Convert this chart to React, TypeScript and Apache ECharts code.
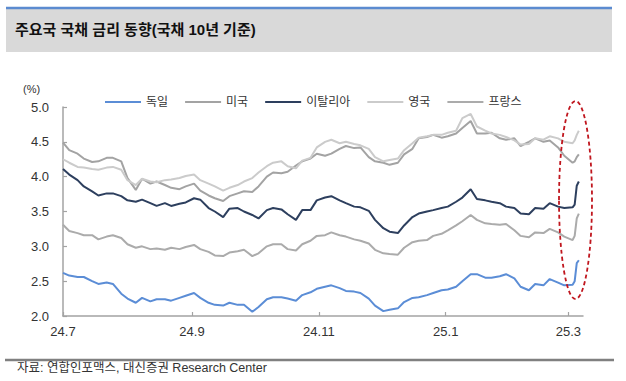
import React, { useEffect, useRef } from "react";
import * as echarts from "echarts";

const FONT = '"Liberation Sans", "Noto Sans CJK KR", sans-serif';

const seriesNames = ["독일", "미국", "이탈리아", "영국", "프랑스"];
const seriesColors = ["#5b8dd6", "#a3a3a3", "#2d3f5e", "#cbcbcb", "#ababab"];

const axisStart = "2024-07-01";
const axisEnd = "2025-03-08";

const dates = [
  "2024-07-01", "2024-07-04", "2024-07-08", "2024-07-11", "2024-07-15", "2024-07-18", "2024-07-22", "2024-07-25", "2024-07-29",
  "2024-08-01", "2024-08-05", "2024-08-08", "2024-08-12", "2024-08-15", "2024-08-19", "2024-08-22", "2024-08-26", "2024-08-29",
  "2024-09-02", "2024-09-05", "2024-09-09", "2024-09-12", "2024-09-16", "2024-09-19", "2024-09-23", "2024-09-26", "2024-09-30",
  "2024-10-03", "2024-10-07", "2024-10-10", "2024-10-14", "2024-10-17", "2024-10-21", "2024-10-24", "2024-10-28", "2024-10-31",
  "2024-11-04", "2024-11-07", "2024-11-11", "2024-11-14", "2024-11-18", "2024-11-21", "2024-11-25", "2024-11-28",
  "2024-12-02", "2024-12-05", "2024-12-09", "2024-12-12", "2024-12-16", "2024-12-19", "2024-12-23", "2024-12-26", "2024-12-30",
  "2025-01-02", "2025-01-06", "2025-01-09", "2025-01-13", "2025-01-16", "2025-01-20", "2025-01-23", "2025-01-27", "2025-01-30",
  "2025-02-03", "2025-02-06", "2025-02-10", "2025-02-13", "2025-02-17", "2025-02-20", "2025-02-24", "2025-02-27",
  "2025-03-03", "2025-03-04", "2025-03-05", "2025-03-06",
];

const germany = [
  2.62, 2.58, 2.56, 2.56, 2.50, 2.46, 2.48, 2.46, 2.32,
  2.25, 2.19, 2.26, 2.21, 2.24, 2.24, 2.22, 2.26, 2.29,
  2.33, 2.26, 2.19, 2.16, 2.15, 2.19, 2.16, 2.16, 2.06,
  2.13, 2.24, 2.27, 2.27, 2.25, 2.22, 2.30, 2.34, 2.39,
  2.42, 2.44, 2.40, 2.36, 2.35, 2.33, 2.25, 2.15,
  2.07, 2.09, 2.11, 2.20, 2.26, 2.27, 2.30, 2.33, 2.37,
  2.38, 2.42, 2.50, 2.60, 2.60, 2.55, 2.55, 2.57, 2.60,
  2.54, 2.42, 2.37, 2.46, 2.44, 2.53, 2.48, 2.44,
  2.45, 2.50, 2.76, 2.80,
];

const usa = [
  4.49, 4.38, 4.33, 4.26, 4.21, 4.22, 4.27, 4.27, 4.22,
  3.98, 3.81, 3.97, 3.90, 3.93, 3.88, 3.84, 3.82, 3.86,
  3.90, 3.80, 3.73, 3.69, 3.65, 3.72, 3.76, 3.79, 3.78,
  3.86, 4.00, 4.06, 4.05, 4.07, 4.16, 4.22, 4.26, 4.33,
  4.30, 4.33, 4.40, 4.44, 4.41, 4.42, 4.28, 4.22,
  4.20, 4.17, 4.20, 4.32, 4.40, 4.55, 4.57, 4.60, 4.56,
  4.58, 4.62, 4.70, 4.80, 4.62, 4.62, 4.63, 4.55, 4.53,
  4.55, 4.44, 4.50, 4.55, 4.50, 4.52, 4.42, 4.30,
  4.20, 4.22, 4.28, 4.32,
];

const italy = [
  4.11, 4.03, 3.95, 3.86, 3.79, 3.73, 3.76, 3.76, 3.72,
  3.66, 3.64, 3.67, 3.62, 3.58, 3.62, 3.58, 3.61, 3.63,
  3.69, 3.67, 3.55, 3.50, 3.42, 3.54, 3.55, 3.50, 3.45,
  3.40, 3.52, 3.55, 3.53, 3.46, 3.38, 3.52, 3.52, 3.66,
  3.70, 3.72, 3.66, 3.62, 3.57, 3.56, 3.51, 3.38,
  3.26, 3.21, 3.19, 3.30, 3.42, 3.47, 3.50, 3.52, 3.55,
  3.57, 3.64, 3.70, 3.82, 3.68, 3.66, 3.64, 3.62, 3.57,
  3.55, 3.47, 3.46, 3.55, 3.54, 3.62, 3.57, 3.55,
  3.56, 3.60, 3.87, 3.93,
];

const uk = [
  4.25, 4.20, 4.14, 4.13, 4.11, 4.10, 4.13, 4.14, 4.10,
  3.95, 3.88, 3.97, 3.93, 3.92, 3.95, 3.96, 3.98, 4.01,
  4.03, 3.95, 3.90, 3.86, 3.80, 3.84, 3.88, 3.93, 3.98,
  4.06, 4.15, 4.20, 4.22, 4.15, 4.12, 4.23, 4.27, 4.42,
  4.50, 4.53, 4.48, 4.50, 4.47, 4.45, 4.40, 4.28,
  4.22, 4.24, 4.26, 4.38, 4.48, 4.56, 4.58, 4.60, 4.60,
  4.63, 4.66, 4.84, 4.90, 4.72, 4.66, 4.62, 4.60, 4.57,
  4.52, 4.46, 4.47, 4.55, 4.53, 4.58, 4.55, 4.50,
  4.48, 4.52, 4.60, 4.66,
];

const france = [
  3.31, 3.22, 3.19, 3.16, 3.16, 3.10, 3.14, 3.16, 3.12,
  3.03, 2.98, 3.00, 2.96, 2.97, 2.95, 2.98, 2.96, 2.99,
  3.02, 2.96, 2.92, 2.87, 2.86, 2.91, 2.93, 2.95, 2.86,
  2.90, 3.00, 3.03, 3.03, 2.96, 2.94, 3.03, 3.08, 3.15,
  3.16, 3.20, 3.16, 3.14, 3.10, 3.08, 3.04, 2.95,
  2.90, 2.89, 2.88, 2.98, 3.06, 3.08, 3.09, 3.15, 3.18,
  3.23, 3.30, 3.36, 3.45, 3.38, 3.33, 3.32, 3.31, 3.32,
  3.23, 3.15, 3.13, 3.20, 3.19, 3.25, 3.20, 3.14,
  3.09, 3.15, 3.40, 3.47,
];

const seriesValues = [germany, usa, italy, uk, france];

const yTicks = { min: 2.0, max: 5.0, step: 0.5 };
const labelMonths = [1, 3, 5, 7, 9, 11];

function buildCategories(): string[] {
  const out: string[] = [];
  const s = Date.UTC(+axisStart.slice(0, 4), +axisStart.slice(5, 7) - 1, +axisStart.slice(8, 10));
  const e = Date.UTC(+axisEnd.slice(0, 4), +axisEnd.slice(5, 7) - 1, +axisEnd.slice(8, 10));
  for (let t = s; t <= e; t += 86400000) {
    const d = new Date(t);
    const y = d.getUTCFullYear();
    const m = String(d.getUTCMonth() + 1).padStart(2, "0");
    const dd = String(d.getUTCDate()).padStart(2, "0");
    out.push(`${y}-${m}-${dd}`);
  }
  return out;
}

export default function App() {
  const ref = useRef<HTMLDivElement>(null);

  useEffect(() => {
    if (!ref.current) return;
    const chart = echarts.init(ref.current, undefined, { renderer: "svg" });
    const categories = buildCategories();
    const indexOf: Record<string, number> = {};
    categories.forEach((c, i) => (indexOf[c] = i));

    const isLabelDay = (_i: number, v: string) =>
      v.slice(8, 10) === "01" && labelMonths.includes(+v.slice(5, 7));

    const axisColor = "#a3a3a3";

    chart.setOption({
      animation: false,
      backgroundColor: "#ffffff",
      textStyle: { fontFamily: FONT },
      grid: { left: 63, right: 43, top: 107, bottom: 65, containLabel: false },
      legend: {
        data: seriesNames,
        left: 100,
        top: 91,
        icon: "rect",
        itemWidth: 36,
        itemHeight: 2,
        itemGap: 17,
        textStyle: { fontSize: 12, color: "#333333", fontFamily: FONT },
      },
      xAxis: {
        type: "category",
        data: categories,
        boundaryGap: false,
        axisLine: { lineStyle: { color: axisColor, width: 1.5 } },
        axisTick: { show: true, inside: true, length: 4, interval: isLabelDay, lineStyle: { color: axisColor, width: 1.2 } },
        axisLabel: {
          interval: isLabelDay,
          formatter: (v: string) => `${v.slice(2, 4)}.${+v.slice(5, 7)}`,
          color: "#333333",
          fontSize: 13,
          margin: 9,
          fontFamily: FONT,
        },
        splitLine: { show: false },
      },
      yAxis: {
        type: "value",
        min: yTicks.min,
        max: yTicks.max,
        interval: yTicks.step,
        axisLine: { show: true, lineStyle: { color: axisColor, width: 1.5 } },
        axisTick: { show: true, inside: true, length: 4, lineStyle: { color: axisColor, width: 1.2 } },
        axisLabel: {
          formatter: (v: number) => v.toFixed(1),
          color: "#333333",
          fontSize: 13,
          margin: 14,
          fontFamily: FONT,
        },
        splitLine: { show: false },
      },
      series: seriesNames.map((name, k) => ({
        name,
        type: "line",
        symbol: "none",
        showSymbol: false,
        color: seriesColors[k],
        lineStyle: { color: seriesColors[k], width: 2 },
        data: dates.map((d, i) => [indexOf[d], seriesValues[k][i]]),
        z: 2 + k,
      })),
      graphic: [
        { type: "rect", left: 6, top: 8, shape: { width: 606, height: 44 }, style: { fill: "#d9d9d9" }, z: 0 },
        { type: "line", shape: { x1: 6, y1: 8, x2: 612, y2: 8 }, style: { stroke: "#5b8bd0", lineWidth: 2.5 }, z: 1 },
        {
          type: "text",
          left: 15,
          top: 22,
          style: { text: "주요국 국채 금리 동향(국채 10년 기준)", fontSize: 15, fontWeight: "bold", fill: "#111111", fontFamily: FONT },
          z: 2,
        },
        {
          type: "text",
          left: 23,
          top: 83,
          style: { text: "(%)", fontSize: 11, fill: "#333333", fontFamily: FONT },
        },
        {
          type: "ellipse",
          shape: { cx: 575.5, cy: 200, rx: 16.5, ry: 99 },
          style: { fill: "none", stroke: "#c0161e", lineWidth: 1.8, lineDash: [4, 3] },
          z: 20,
        },
        { type: "line", shape: { x1: 5, y1: 360, x2: 614, y2: 360 }, style: { stroke: "#808080", lineWidth: 2.5 } },
        {
          type: "text",
          left: 17,
          top: 362,
          style: { text: "자료: 연합인포맥스, 대신증권 Research Center", fontSize: 12.5, fill: "#333333", fontFamily: FONT },
        },
      ],
    });

    return () => chart.dispose();
  }, []);

  return (
    <div
      ref={ref}
      style={{ position: "fixed", left: 0, top: 0, width: 626, height: 381, background: "#fff" }}
    />
  );
}
